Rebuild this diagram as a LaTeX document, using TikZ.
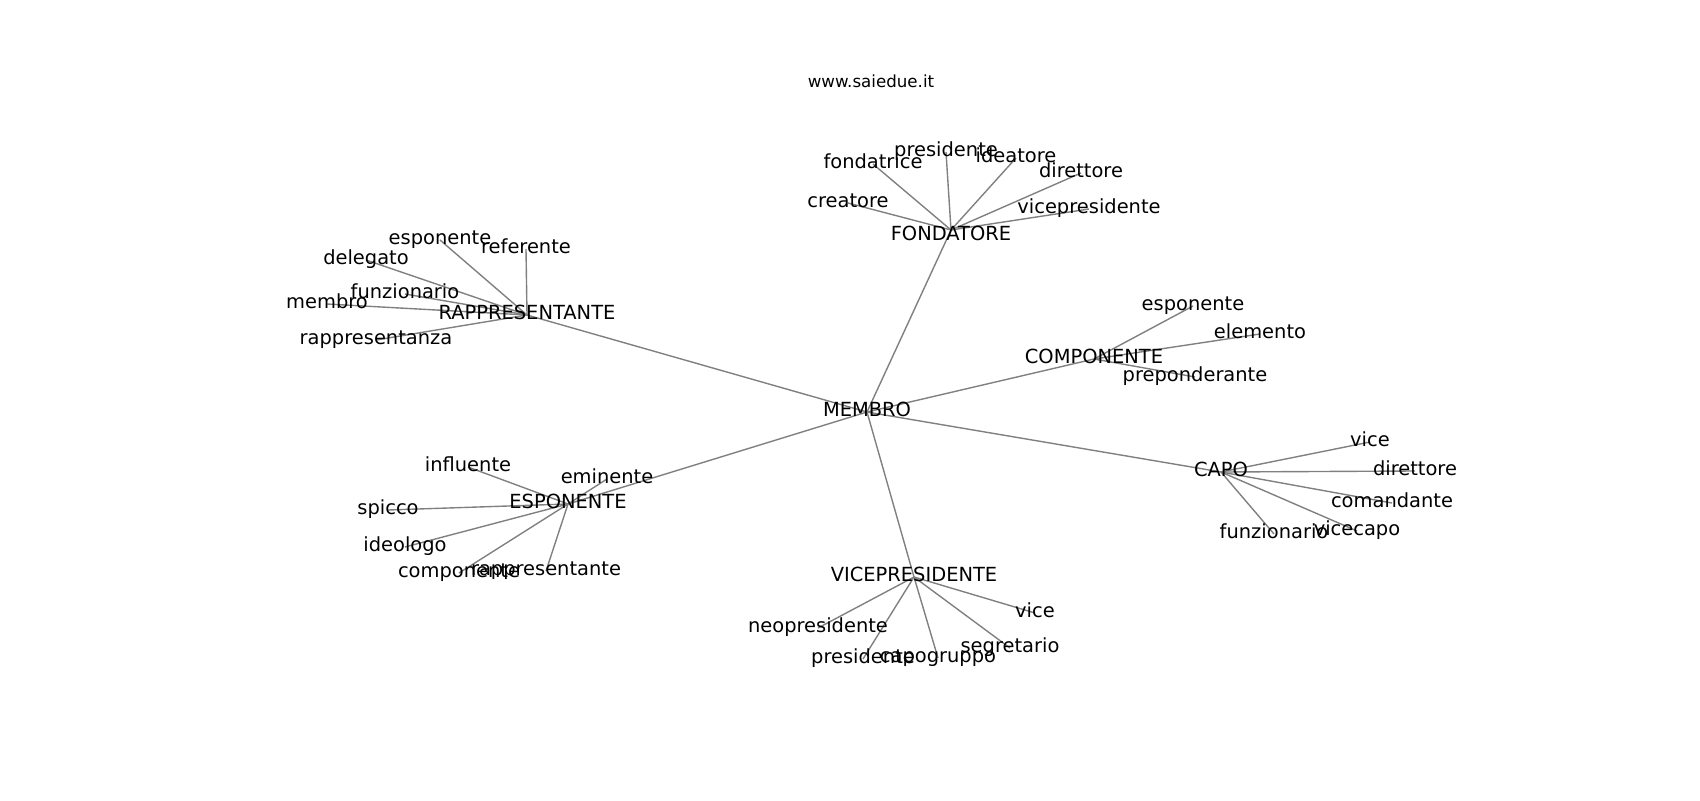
\documentclass[tikz,border=0pt]{standalone}
\usepackage{fontspec}
\setmainfont{DejaVu Sans}
\begin{document}
\begin{tikzpicture}[x=0.72pt,y=-0.72pt,
  edge/.style={draw=black!50, line width=1pt},
  lbl/.style={font=\fontsize{14}{14}\selectfont, inner sep=0pt, anchor=base, text=black},
  ttl/.style={font=\fontsize{12}{12}\selectfont, inner sep=0pt, anchor=base, text=black}]
\useasboundingbox[fill=white] (0,0) rectangle (1700,800);
% hubs
\coordinate (M) at (867,412);
\coordinate (R) at (527,315);
\coordinate (F) at (951,230);
\coordinate (C) at (1094,359);
\coordinate (P) at (1221,472);
\coordinate (E) at (568,504);
\coordinate (V) at (914,577);
% leaves
\coordinate (r1) at (440,240);
\coordinate (r2) at (526,249);
\coordinate (r3) at (366,260);
\coordinate (r4) at (405,294);
\coordinate (r5) at (327,304);
\coordinate (r6) at (376,340);
\coordinate (f1) at (848,203);
\coordinate (f2) at (873,164);
\coordinate (f3) at (946,152);
\coordinate (f4) at (1016,158);
\coordinate (f5) at (1081,173);
\coordinate (f6) at (1089,209);
\coordinate (c1) at (1193,306);
\coordinate (c2) at (1260,334);
\coordinate (c3) at (1195,377);
\coordinate (p1) at (1370,442);
\coordinate (p2) at (1415,471);
\coordinate (p3) at (1392,503);
\coordinate (p4) at (1357,531);
\coordinate (p5) at (1274,534);
\coordinate (e1) at (468,467);
\coordinate (e2) at (607,479);
\coordinate (e3) at (388,510);
\coordinate (e4) at (405,547);
\coordinate (e5) at (459,573);
\coordinate (e6) at (546,571);
\coordinate (v1) at (818,628);
\coordinate (v2) at (863,659);
\coordinate (v3) at (938,658);
\coordinate (v4) at (1010,648);
\coordinate (v5) at (1035,613);
% edges
\foreach \h in {R,F,C,P,E,V} \draw[edge] (M) -- (\h);
\foreach \l in {r1,r2,r3,r4,r5,r6} \draw[edge] (R) -- (\l);
\foreach \l in {f1,f2,f3,f4,f5,f6} \draw[edge] (F) -- (\l);
\foreach \l in {c1,c2,c3} \draw[edge] (C) -- (\l);
\foreach \l in {p1,p2,p3,p4,p5} \draw[edge] (P) -- (\l);
\foreach \l in {e1,e2,e3,e4,e5,e6} \draw[edge] (E) -- (\l);
\foreach \l in {v1,v2,v3,v4,v5} \draw[edge] (V) -- (\l);
% labels
\tikzset{lbl/.append style={yshift=-2.9pt}}
\node[ttl] (title) at (871,87) {www.saiedue.it};
\node[lbl] (tM) at (M) {MEMBRO};
\node[lbl] (tR) at (R) {RAPPRESENTANTE};
\node[lbl,yshift=-5pt] (tF) at (F) {FONDATORE};
\node[lbl] (tC) at (C) {COMPONENTE};
\node[lbl] (tP) at (P) {CAPO};
\node[lbl] (tE) at (E) {ESPONENTE};
\node[lbl] (tV) at (V) {VICEPRESIDENTE};
\node[lbl] (tr1) at (r1) {esponente};
\node[lbl] (tr2) at (r2) {referente};
\node[lbl] (tr3) at (r3) {delegato};
\node[lbl] (tr4) at (r4) {funzionario};
\node[lbl] (tr5) at (r5) {membro};
\node[lbl] (tr6) at (r6) {rappresentanza};
\node[lbl] (tf1) at (f1) {creatore};
\node[lbl] (tf2) at (f2) {fondatrice};
\node[lbl] (tf3) at (f3) {presidente};
\node[lbl] (tf4) at (f4) {ideatore};
\node[lbl] (tf5) at (f5) {direttore};
\node[lbl] (tf6) at (f6) {vicepresidente};
\node[lbl] (tc1) at (c1) {esponente};
\node[lbl] (tc2) at (c2) {elemento};
\node[lbl] (tc3) at (c3) {preponderante};
\node[lbl] (tp1) at (p1) {vice};
\node[lbl] (tp2) at (p2) {direttore};
\node[lbl] (tp3) at (p3) {comandante};
\node[lbl] (tp4) at (p4) {vicecapo};
\node[lbl] (tp5) at (p5) {funzionario};
\node[lbl] (te1) at (e1) {influente};
\node[lbl] (te2) at (e2) {eminente};
\node[lbl] (te3) at (e3) {spicco};
\node[lbl] (te4) at (e4) {ideologo};
\node[lbl] (te5) at (e5) {componente};
\node[lbl] (te6) at (e6) {rappresentante};
\node[lbl] (tv1) at (v1) {neopresidente};
\node[lbl] (tv2) at (v2) {presidente};
\node[lbl] (tv3) at (v3) {capogruppo};
\node[lbl] (tv4) at (v4) {segretario};
\node[lbl] (tv5) at (v5) {vice};
\end{tikzpicture}
\end{document}
